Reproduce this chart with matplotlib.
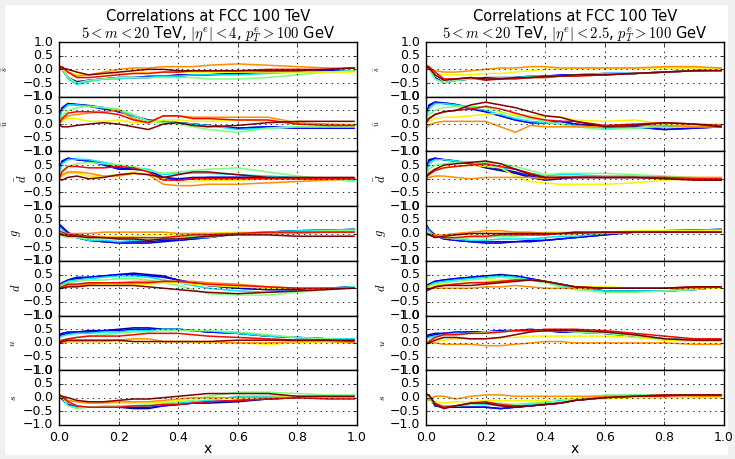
import matplotlib
matplotlib.use('Agg')
import matplotlib.pyplot as plt
from matplotlib.patches import Rectangle

plt.style.use('classic')
plt.rcParams['figure.facecolor'] = 'white'

# x knots shared by every curve
x = [0.0, 0.01, 0.03, 0.06, 0.1, 0.15, 0.2, 0.25, 0.3, 0.35, 0.4, 0.45, 0.5, 0.6, 0.7, 0.8, 0.9, 0.99]

# jet colour positions of the curves, drawn in this order
jet_pos = [0.03, 0.12, 0.35, 0.5, 0.65, 0.76, 0.9, 1.0]

flavours = [r'$\bar{s}$', r'$\bar{u}$', r'$\bar{d}$', r'$g$', r'$d$', r'$u$', r'$s$']
label_size = [6, 6, 9, 9, 9, 7, 7]

titles = ['Correlations at FCC 100 TeV\n$5<m<20$ TeV, $|\\eta^e|<4$, $p_T^e>100$ GeV',
          'Correlations at FCC 100 TeV\n$5<m<20$ TeV, $|\\eta^e|<2.5$, $p_T^e>100$ GeV']

# ---- left column: |eta| < 4 ----
sbar_l = [
    [0.10, 0.00, -0.30, -0.45, -0.40, -0.35, -0.30, -0.30, -0.30, -0.25, -0.25, -0.20, -0.20, -0.15, -0.10, -0.10, -0.05, -0.05],
    [0.10, 0.05, -0.30, -0.50, -0.40, -0.35, -0.30, -0.30, -0.25, -0.25, -0.20, -0.20, -0.20, -0.15, -0.10, -0.10, -0.05, -0.05],
    [0.15, 0.05, -0.35, -0.55, -0.45, -0.35, -0.35, -0.30, -0.30, -0.25, -0.25, -0.20, -0.20, -0.20, -0.15, -0.10, -0.10, -0.05],
    [0.15, 0.05, -0.30, -0.50, -0.40, -0.35, -0.30, -0.30, -0.30, -0.30, -0.30, -0.30, -0.35, -0.35, -0.30, -0.20, -0.10, -0.05],
    [0.05, 0.00, -0.10, -0.20, -0.20, -0.15, -0.15, -0.15, -0.10, -0.10, -0.10, -0.10, -0.10, -0.10, -0.10, -0.10, -0.10, -0.10],
    [0.10, 0.05, -0.10, -0.25, -0.20, -0.10, 0.00, 0.05, 0.05, 0.10, 0.10, 0.10, 0.15, 0.20, 0.15, 0.10, 0.05, 0.05],
    [0.10, 0.10, -0.10, -0.30, -0.30, -0.25, -0.20, -0.15, -0.15, -0.10, -0.10, -0.05, -0.05, -0.05, 0.00, 0.00, 0.00, 0.05],
    [0.05, 0.05, 0.00, -0.10, -0.20, -0.15, -0.10, -0.05, 0.00, 0.00, -0.05, -0.05, -0.05, -0.05, -0.05, -0.05, 0.00, 0.05],
]
ubar_l = [
    [0.25, 0.60, 0.75, 0.72, 0.68, 0.60, 0.45, 0.30, 0.15, 0.10, 0.05, 0.00, -0.05, -0.15, -0.10, -0.15, -0.15, -0.15],
    [0.20, 0.55, 0.75, 0.70, 0.65, 0.55, 0.45, 0.30, 0.12, 0.08, 0.05, 0.00, -0.05, -0.15, -0.10, -0.15, -0.15, -0.15],
    [0.15, 0.50, 0.70, 0.70, 0.65, 0.60, 0.50, 0.30, 0.12, 0.12, 0.05, 0.00, -0.05, -0.20, -0.15, -0.10, -0.10, -0.10],
    [0.05, 0.30, 0.50, 0.60, 0.65, 0.60, 0.55, 0.35, 0.10, 0.05, 0.00, -0.10, -0.20, -0.30, -0.15, -0.10, -0.10, -0.10],
    [0.00, 0.10, 0.20, 0.20, 0.10, 0.10, 0.15, 0.05, 0.05, 0.15, 0.15, 0.10, 0.10, 0.15, 0.10, 0.00, 0.00, 0.00],
    [0.00, 0.15, 0.30, 0.35, 0.40, 0.45, 0.50, 0.20, 0.05, 0.30, 0.30, 0.25, 0.25, 0.25, 0.25, 0.05, 0.00, -0.05],
    [0.00, 0.20, 0.40, 0.45, 0.45, 0.42, 0.35, 0.15, 0.05, 0.30, 0.30, 0.20, 0.20, 0.15, 0.15, 0.00, -0.05, -0.05],
    [0.00, -0.10, -0.10, -0.05, 0.00, 0.05, 0.00, -0.10, -0.20, 0.00, 0.05, -0.05, -0.10, -0.05, 0.05, 0.10, 0.10, 0.10],
]
dbar_l = [
    [0.30, 0.65, 0.75, 0.70, 0.65, 0.55, 0.40, 0.35, 0.30, 0.05, -0.05, 0.00, 0.05, 0.05, 0.05, 0.00, 0.00, 0.00],
    [0.25, 0.60, 0.75, 0.70, 0.65, 0.50, 0.35, 0.35, 0.30, 0.05, 0.00, 0.05, 0.05, 0.05, 0.05, 0.00, 0.00, 0.00],
    [0.20, 0.55, 0.70, 0.72, 0.70, 0.60, 0.50, 0.40, 0.35, 0.15, 0.20, 0.20, 0.20, 0.15, 0.10, 0.05, 0.00, -0.05],
    [0.05, 0.30, 0.45, 0.55, 0.60, 0.55, 0.50, 0.45, 0.30, 0.20, 0.25, 0.30, 0.35, 0.40, 0.25, 0.10, 0.00, -0.10],
    [0.00, 0.10, 0.20, 0.20, 0.10, 0.10, 0.15, 0.25, 0.15, 0.00, -0.10, -0.10, -0.05, -0.05, 0.00, 0.00, 0.00, 0.00],
    [0.00, 0.15, 0.25, 0.25, 0.20, 0.10, 0.10, 0.20, 0.15, -0.20, -0.25, -0.25, -0.20, -0.20, -0.15, -0.10, -0.05, 0.00],
    [0.00, 0.25, 0.45, 0.45, 0.40, 0.40, 0.45, 0.40, 0.25, -0.05, -0.05, 0.00, 0.00, 0.00, 0.00, 0.00, 0.00, 0.00],
    [0.00, -0.05, 0.05, 0.10, 0.00, 0.05, 0.15, 0.20, 0.15, 0.05, 0.15, 0.25, 0.25, 0.15, 0.05, 0.05, 0.05, 0.05],
]
g_l = [
    [0.35, 0.25, 0.05, -0.15, -0.25, -0.30, -0.35, -0.35, -0.35, -0.30, -0.25, -0.20, -0.15, 0.00, 0.05, 0.10, 0.12, 0.15],
    [0.30, 0.20, 0.00, -0.15, -0.25, -0.30, -0.30, -0.30, -0.30, -0.25, -0.25, -0.20, -0.15, 0.00, 0.05, 0.10, 0.12, 0.15],
    [0.25, 0.15, -0.05, -0.15, -0.25, -0.25, -0.30, -0.25, -0.25, -0.20, -0.20, -0.15, -0.15, 0.00, 0.05, 0.10, 0.12, 0.15],
    [0.00, -0.10, -0.15, -0.15, -0.20, -0.20, -0.20, -0.20, -0.20, -0.15, -0.15, -0.10, -0.10, 0.00, 0.05, 0.05, 0.10, 0.10],
    [0.00, -0.05, -0.10, -0.10, -0.10, -0.10, -0.10, -0.10, -0.05, -0.05, -0.05, 0.00, 0.00, 0.05, 0.05, 0.05, 0.05, 0.05],
    [0.00, 0.00, 0.00, 0.00, 0.00, 0.05, 0.05, 0.05, 0.05, 0.05, 0.00, 0.00, 0.00, 0.00, 0.00, 0.00, 0.05, 0.05],
    [0.10, 0.05, -0.05, -0.05, -0.10, -0.15, -0.15, -0.15, -0.15, -0.15, -0.10, -0.05, -0.05, 0.00, 0.05, 0.05, 0.05, 0.05],
    [0.00, -0.05, -0.10, -0.10, -0.15, -0.15, -0.20, -0.20, -0.25, -0.20, -0.20, -0.15, -0.10, -0.05, -0.05, -0.10, -0.10, -0.10],
]
d_l = [
    [0.10, 0.20, 0.30, 0.40, 0.40, 0.45, 0.50, 0.55, 0.50, 0.45, 0.30, 0.20, 0.10, 0.00, -0.05, -0.05, 0.00, 0.05],
    [0.05, 0.15, 0.30, 0.35, 0.40, 0.45, 0.50, 0.50, 0.45, 0.40, 0.30, 0.20, 0.10, 0.00, -0.05, -0.05, 0.00, 0.05],
    [0.05, 0.15, 0.25, 0.30, 0.35, 0.40, 0.45, 0.45, 0.40, 0.30, 0.20, 0.10, 0.00, -0.10, -0.15, -0.10, 0.00, 0.05],
    [0.05, 0.10, 0.20, 0.25, 0.30, 0.30, 0.35, 0.35, 0.30, 0.20, 0.10, -0.05, -0.20, -0.25, -0.25, -0.15, -0.05, 0.05],
    [0.00, 0.05, 0.10, 0.10, 0.15, 0.15, 0.15, 0.15, 0.15, 0.20, 0.20, 0.15, 0.10, 0.05, 0.00, 0.00, 0.00, 0.00],
    [0.00, 0.05, 0.10, 0.10, 0.15, 0.20, 0.20, 0.25, 0.25, 0.25, 0.25, 0.25, 0.20, 0.15, 0.05, 0.00, 0.00, 0.00],
    [-0.05, 0.05, 0.15, 0.15, 0.20, 0.20, 0.20, 0.20, 0.20, 0.25, 0.25, 0.20, 0.15, 0.10, 0.05, 0.00, 0.00, 0.00],
    [0.00, 0.00, 0.05, 0.05, 0.10, 0.10, 0.10, 0.10, 0.05, 0.00, -0.05, -0.10, -0.15, -0.20, -0.15, -0.10, -0.05, 0.00],
]
u_l = [
    [0.30, 0.35, 0.40, 0.40, 0.45, 0.45, 0.50, 0.55, 0.55, 0.50, 0.50, 0.45, 0.40, 0.35, 0.25, 0.20, 0.15, 0.10],
    [0.25, 0.30, 0.35, 0.40, 0.40, 0.45, 0.45, 0.50, 0.50, 0.50, 0.50, 0.45, 0.40, 0.35, 0.25, 0.20, 0.15, 0.10],
    [0.20, 0.25, 0.30, 0.35, 0.35, 0.40, 0.40, 0.45, 0.45, 0.50, 0.50, 0.45, 0.45, 0.35, 0.25, 0.20, 0.15, 0.15],
    [0.05, 0.10, 0.15, 0.20, 0.25, 0.30, 0.35, 0.40, 0.40, 0.45, 0.45, 0.45, 0.45, 0.40, 0.30, 0.20, 0.15, 0.10],
    [0.00, 0.00, 0.05, 0.05, 0.05, 0.05, 0.05, 0.05, 0.05, 0.05, 0.05, 0.05, 0.00, 0.00, -0.05, 0.00, 0.05, 0.00],
    [0.00, 0.00, 0.05, 0.05, 0.05, 0.05, 0.10, 0.15, 0.15, 0.05, 0.05, 0.05, 0.05, 0.00, 0.00, 0.05, 0.05, 0.00],
    [0.05, 0.10, 0.15, 0.20, 0.25, 0.25, 0.25, 0.30, 0.35, 0.35, 0.35, 0.30, 0.25, 0.20, 0.15, 0.10, 0.10, 0.05],
    [0.00, 0.05, 0.10, 0.10, 0.10, 0.10, 0.10, 0.05, 0.05, 0.05, 0.05, 0.05, 0.05, 0.10, 0.10, 0.10, 0.10, 0.10],
]
s_l = [
    [0.05, -0.05, -0.25, -0.35, -0.35, -0.35, -0.35, -0.40, -0.40, -0.30, -0.25, -0.20, -0.20, -0.15, -0.05, 0.00, 0.05, 0.05],
    [0.05, -0.05, -0.25, -0.35, -0.35, -0.35, -0.35, -0.35, -0.35, -0.30, -0.25, -0.20, -0.15, -0.10, -0.05, 0.00, 0.05, 0.05],
    [0.10, 0.00, -0.30, -0.35, -0.35, -0.35, -0.30, -0.30, -0.30, -0.25, -0.20, -0.15, -0.10, 0.05, 0.05, 0.05, 0.05, 0.05],
    [0.10, 0.05, -0.30, -0.40, -0.35, -0.30, -0.30, -0.30, -0.25, -0.20, -0.15, -0.10, 0.05, 0.20, 0.20, 0.15, 0.10, 0.10],
    [0.05, 0.00, -0.10, -0.15, -0.20, -0.20, -0.20, -0.20, -0.20, -0.15, -0.10, -0.05, -0.05, 0.00, 0.00, 0.05, 0.05, 0.05],
    [0.05, 0.00, -0.10, -0.15, -0.20, -0.20, -0.15, -0.15, -0.15, -0.10, -0.05, 0.00, 0.00, 0.00, 0.00, 0.00, 0.00, 0.00],
    [0.10, 0.05, -0.15, -0.30, -0.35, -0.35, -0.35, -0.30, -0.30, -0.25, -0.25, -0.20, -0.15, -0.10, -0.05, 0.00, -0.05, -0.05],
    [0.10, 0.05, 0.00, -0.10, -0.15, -0.15, -0.10, -0.05, -0.05, 0.00, 0.05, 0.10, 0.15, 0.15, 0.15, 0.05, 0.05, 0.05],
]

# ---- right column: |eta| < 2.5 ----
sbar_r = [
    [0.15, 0.05, -0.30, -0.50, -0.40, -0.35, -0.35, -0.35, -0.30, -0.30, -0.25, -0.25, -0.20, -0.20, -0.15, -0.10, -0.05, 0.00],
    [0.15, 0.05, -0.30, -0.50, -0.40, -0.35, -0.30, -0.30, -0.30, -0.25, -0.25, -0.20, -0.20, -0.15, -0.15, -0.10, -0.05, 0.00],
    [0.15, 0.05, -0.35, -0.50, -0.40, -0.35, -0.35, -0.30, -0.30, -0.25, -0.25, -0.25, -0.20, -0.15, -0.15, -0.10, -0.05, 0.00],
    [0.15, 0.05, -0.35, -0.50, -0.40, -0.35, -0.35, -0.35, -0.35, -0.30, -0.30, -0.25, -0.25, -0.20, -0.15, -0.10, -0.05, 0.00],
    [0.10, 0.00, -0.15, -0.20, -0.20, -0.20, -0.15, -0.15, -0.10, -0.05, 0.00, 0.00, 0.05, 0.05, 0.05, 0.05, 0.05, 0.05],
    [0.05, 0.00, -0.05, -0.10, -0.10, -0.05, 0.00, 0.05, 0.05, 0.10, 0.10, 0.05, 0.05, 0.05, 0.05, 0.10, 0.10, 0.05],
    [0.15, 0.10, -0.10, -0.35, -0.35, -0.30, -0.40, -0.35, -0.35, -0.30, -0.30, -0.25, -0.25, -0.20, -0.15, -0.10, -0.05, -0.05],
    [0.10, 0.05, -0.20, -0.40, -0.35, -0.30, -0.35, -0.35, -0.30, -0.30, -0.25, -0.25, -0.20, -0.20, -0.15, -0.10, -0.05, -0.05],
]
ubar_r = [
    [0.30, 0.70, 0.80, 0.78, 0.72, 0.60, 0.45, 0.30, 0.15, 0.05, 0.05, 0.10, 0.00, -0.10, -0.10, -0.20, -0.15, -0.10],
    [0.25, 0.65, 0.80, 0.75, 0.70, 0.55, 0.45, 0.30, 0.15, 0.05, 0.05, 0.10, 0.00, -0.10, -0.10, -0.20, -0.15, -0.10],
    [0.20, 0.55, 0.75, 0.75, 0.70, 0.60, 0.50, 0.35, 0.20, 0.10, 0.05, 0.00, -0.05, -0.15, -0.15, -0.10, -0.10, -0.10],
    [0.10, 0.35, 0.50, 0.60, 0.65, 0.65, 0.60, 0.45, 0.30, 0.20, 0.10, 0.00, -0.10, -0.20, -0.15, -0.05, -0.05, -0.05],
    [0.05, 0.10, 0.20, 0.25, 0.25, 0.30, 0.35, 0.40, 0.35, 0.30, 0.30, 0.25, 0.15, 0.10, 0.15, 0.00, 0.00, 0.00],
    [-0.15, -0.05, 0.05, 0.10, 0.10, 0.10, 0.10, -0.10, -0.30, -0.05, -0.10, -0.10, -0.10, -0.10, -0.05, -0.05, -0.10, -0.10],
    [0.05, 0.20, 0.35, 0.45, 0.50, 0.55, 0.65, 0.55, 0.40, 0.25, 0.15, 0.10, 0.10, -0.05, 0.00, 0.05, 0.00, -0.05],
    [0.05, 0.20, 0.35, 0.45, 0.50, 0.70, 0.80, 0.70, 0.60, 0.45, 0.30, 0.25, 0.10, -0.10, -0.05, 0.05, 0.00, -0.10],
]
dbar_r = [
    [0.30, 0.70, 0.75, 0.70, 0.65, 0.55, 0.40, 0.30, 0.20, 0.05, -0.05, 0.00, 0.05, 0.05, 0.05, 0.05, 0.00, -0.05],
    [0.25, 0.65, 0.75, 0.70, 0.65, 0.55, 0.45, 0.35, 0.25, 0.10, 0.00, 0.05, 0.05, 0.05, 0.05, 0.05, 0.00, -0.05],
    [0.20, 0.55, 0.70, 0.70, 0.65, 0.60, 0.50, 0.40, 0.35, 0.20, 0.10, 0.15, 0.15, 0.10, 0.10, 0.05, 0.00, 0.00],
    [0.10, 0.35, 0.50, 0.55, 0.60, 0.60, 0.60, 0.55, 0.45, 0.30, 0.15, 0.20, 0.20, 0.20, 0.15, 0.10, 0.05, 0.00],
    [0.05, 0.20, 0.35, 0.40, 0.45, 0.50, 0.45, 0.40, 0.10, -0.10, -0.15, -0.20, -0.20, -0.20, -0.15, -0.05, 0.00, 0.00],
    [0.00, 0.05, 0.10, 0.10, 0.05, 0.00, 0.05, 0.05, 0.05, 0.05, 0.00, 0.05, 0.05, 0.05, 0.05, 0.05, 0.05, 0.05],
    [0.05, 0.15, 0.30, 0.40, 0.45, 0.50, 0.55, 0.45, 0.35, 0.20, 0.05, 0.05, 0.05, 0.05, 0.05, 0.05, 0.00, 0.00],
    [0.05, 0.20, 0.35, 0.50, 0.55, 0.60, 0.65, 0.55, 0.35, 0.15, 0.05, 0.05, 0.05, 0.05, 0.05, 0.00, -0.05, -0.05],
]
g_r = [
    [0.35, 0.15, -0.05, -0.20, -0.25, -0.30, -0.35, -0.35, -0.30, -0.30, -0.25, -0.20, -0.15, -0.05, 0.05, 0.10, 0.12, 0.15],
    [0.30, 0.10, -0.05, -0.20, -0.25, -0.30, -0.30, -0.30, -0.30, -0.25, -0.25, -0.20, -0.15, -0.05, 0.05, 0.10, 0.12, 0.15],
    [0.25, 0.10, -0.10, -0.15, -0.20, -0.25, -0.25, -0.20, -0.20, -0.20, -0.15, -0.10, -0.10, 0.00, 0.05, 0.10, 0.12, 0.15],
    [0.05, -0.05, -0.10, -0.15, -0.20, -0.15, -0.15, -0.10, -0.10, -0.05, -0.05, 0.00, 0.00, 0.05, 0.05, 0.10, 0.10, 0.10],
    [0.00, -0.05, -0.05, -0.10, -0.05, 0.00, 0.00, 0.00, 0.00, 0.00, 0.05, 0.05, 0.05, 0.05, 0.10, 0.10, 0.10, 0.10],
    [0.00, 0.00, -0.05, -0.05, 0.00, 0.05, 0.10, 0.10, 0.05, 0.05, 0.00, 0.00, 0.00, 0.00, 0.05, 0.05, 0.05, 0.05],
    [0.00, -0.05, -0.10, -0.15, -0.15, -0.10, -0.10, -0.05, -0.05, -0.05, -0.05, 0.00, 0.00, 0.05, 0.05, 0.05, 0.05, 0.05],
    [0.00, -0.05, -0.15, -0.10, -0.05, 0.00, 0.00, 0.00, 0.00, 0.00, 0.00, 0.00, 0.05, 0.05, 0.05, 0.05, 0.05, 0.05],
]
d_r = [
    [0.10, 0.15, 0.25, 0.30, 0.35, 0.40, 0.45, 0.50, 0.45, 0.35, 0.25, 0.15, 0.05, -0.10, -0.10, -0.10, -0.05, 0.05],
    [0.05, 0.10, 0.25, 0.30, 0.35, 0.40, 0.45, 0.45, 0.45, 0.35, 0.25, 0.15, 0.05, -0.10, -0.10, -0.10, -0.05, 0.05],
    [0.05, 0.10, 0.20, 0.25, 0.30, 0.35, 0.40, 0.45, 0.40, 0.30, 0.20, 0.10, 0.00, -0.10, -0.10, -0.10, -0.05, 0.05],
    [0.00, 0.05, 0.15, 0.20, 0.25, 0.30, 0.35, 0.40, 0.35, 0.30, 0.20, 0.05, -0.05, -0.15, -0.15, -0.10, -0.05, 0.05],
    [0.00, 0.05, 0.10, 0.15, 0.15, 0.20, 0.25, 0.30, 0.30, 0.30, 0.25, 0.15, 0.05, 0.05, 0.00, 0.00, 0.00, 0.00],
    [0.00, 0.00, 0.00, 0.00, 0.00, 0.00, 0.05, 0.05, 0.10, 0.05, 0.00, 0.00, 0.00, 0.00, 0.00, 0.00, 0.00, 0.05],
    [-0.10, -0.05, 0.05, 0.10, 0.15, 0.20, 0.20, 0.25, 0.30, 0.30, 0.25, 0.15, 0.05, 0.00, 0.00, 0.00, 0.05, 0.05],
    [-0.10, -0.05, 0.05, 0.10, 0.10, 0.10, 0.15, 0.20, 0.25, 0.30, 0.25, 0.15, 0.05, 0.00, 0.00, 0.00, 0.05, 0.05],
]
u_r = [
    [0.25, 0.30, 0.35, 0.35, 0.40, 0.40, 0.40, 0.45, 0.45, 0.50, 0.45, 0.40, 0.40, 0.35, 0.25, 0.15, 0.10, 0.10],
    [0.20, 0.25, 0.30, 0.35, 0.35, 0.40, 0.40, 0.45, 0.45, 0.45, 0.45, 0.40, 0.40, 0.35, 0.25, 0.15, 0.10, 0.10],
    [0.15, 0.20, 0.25, 0.30, 0.35, 0.35, 0.40, 0.40, 0.45, 0.45, 0.45, 0.45, 0.40, 0.35, 0.30, 0.15, 0.10, 0.10],
    [0.05, 0.10, 0.20, 0.30, 0.30, 0.35, 0.40, 0.40, 0.45, 0.45, 0.45, 0.45, 0.40, 0.35, 0.25, 0.15, 0.10, 0.10],
    [0.00, 0.00, 0.05, 0.10, 0.15, 0.15, 0.15, 0.20, 0.20, 0.25, 0.25, 0.25, 0.25, 0.25, 0.20, 0.10, 0.05, 0.05],
    [0.00, 0.00, 0.00, -0.05, -0.05, -0.05, -0.10, -0.10, -0.05, 0.00, 0.05, 0.05, 0.00, 0.00, 0.00, 0.00, -0.05, -0.05],
    [-0.05, 0.05, 0.20, 0.30, 0.30, 0.35, 0.35, 0.40, 0.45, 0.45, 0.50, 0.50, 0.50, 0.45, 0.35, 0.25, 0.15, 0.15],
    [-0.05, 0.00, 0.10, 0.20, 0.20, 0.15, 0.15, 0.20, 0.30, 0.40, 0.45, 0.45, 0.45, 0.40, 0.30, 0.15, 0.10, 0.10],
]
s_r = [
    [0.15, 0.05, -0.30, -0.35, -0.35, -0.35, -0.35, -0.40, -0.35, -0.30, -0.25, -0.20, -0.10, 0.00, 0.05, 0.10, 0.10, 0.10],
    [0.15, 0.05, -0.30, -0.35, -0.35, -0.35, -0.35, -0.40, -0.35, -0.30, -0.25, -0.20, -0.10, 0.00, 0.05, 0.10, 0.10, 0.10],
    [0.10, 0.00, -0.25, -0.30, -0.30, -0.25, -0.25, -0.30, -0.30, -0.25, -0.20, -0.10, -0.05, 0.05, 0.10, 0.10, 0.10, 0.10],
    [0.10, 0.00, -0.25, -0.35, -0.30, -0.25, -0.20, -0.20, -0.25, -0.20, -0.15, -0.15, -0.05, 0.10, 0.10, 0.10, 0.10, 0.05],
    [0.05, 0.00, -0.15, -0.20, -0.15, -0.15, -0.10, -0.10, -0.10, -0.10, -0.10, -0.05, -0.05, -0.05, 0.00, 0.00, 0.00, 0.00],
    [0.00, -0.10, 0.05, 0.05, -0.05, 0.05, 0.10, 0.10, 0.05, 0.05, 0.05, 0.05, 0.05, 0.05, 0.05, 0.10, 0.05, 0.05],
    [0.10, 0.10, -0.20, -0.35, -0.30, -0.20, -0.15, -0.25, -0.30, -0.30, -0.25, -0.20, -0.10, 0.00, 0.05, 0.05, 0.10, 0.10],
    [0.10, 0.10, -0.25, -0.40, -0.30, -0.20, -0.20, -0.30, -0.35, -0.30, -0.25, -0.20, -0.10, 0.00, 0.05, 0.10, 0.10, 0.10],
]

columns = [[sbar_l, ubar_l, dbar_l, g_l, d_l, u_l, s_l],
           [sbar_r, ubar_r, dbar_r, g_r, d_r, u_r, s_r]]

W, H = 735, 459
fig = plt.figure(figsize=(W / 100, H / 100), dpi=100)
fig.patch.set_facecolor('#f0f0f0')
fig.patches.append(Rectangle((5 / W, 4 / H), 723 / W, 450 / H, transform=fig.transFigure,
                             facecolor='white', edgecolor='none', zorder=-10))

cmap = plt.get_cmap('jet')
lefts = [59, 426]
# right edge of each rotated y label, in axes fraction
label_x = [[-0.164, -0.164, -0.10, -0.121, -0.121, -0.141, -0.138],
           [-0.148, -0.148, -0.128, -0.128, -0.128, -0.131, -0.131]]
top, bottom = 42, 425
rowh = (bottom - top) / 7.0

for c in range(2):
    for r in range(7):
        y0 = H - (top + (r + 1) * rowh)
        ax = fig.add_axes([lefts[c] / W, y0 / H, 298 / W, rowh / H])
        for k, vals in enumerate(columns[c][r]):
            ax.plot(x, vals, color=cmap(jet_pos[k]), lw=1.1)
        ax.set_xlim(0, 1)
        ax.set_ylim(-1, 1)
        ax.set_yticks([-1.0, -0.5, 0.0, 0.5, 1.0])
        ax.set_xticks([0.0, 0.2, 0.4, 0.6, 0.8, 1.0])
        ax.tick_params(labelsize=9, length=3)
        ax.grid(True, color='k', linestyle=':', linewidth=0.6)
        ax.set_ylabel(flavours[r], fontsize=label_size[r])
        ax.yaxis.set_label_coords(label_x[c][r], 0.5)
        if r == 0:
            ax.set_title(titles[c], fontsize=10.5, linespacing=1.0, pad=3)
        if r < 6:
            ax.set_xticklabels([])
        else:
            ax.set_xlabel('x', fontsize=10, labelpad=-1)

fig.savefig('out.png', dpi=100, facecolor=fig.get_facecolor())
